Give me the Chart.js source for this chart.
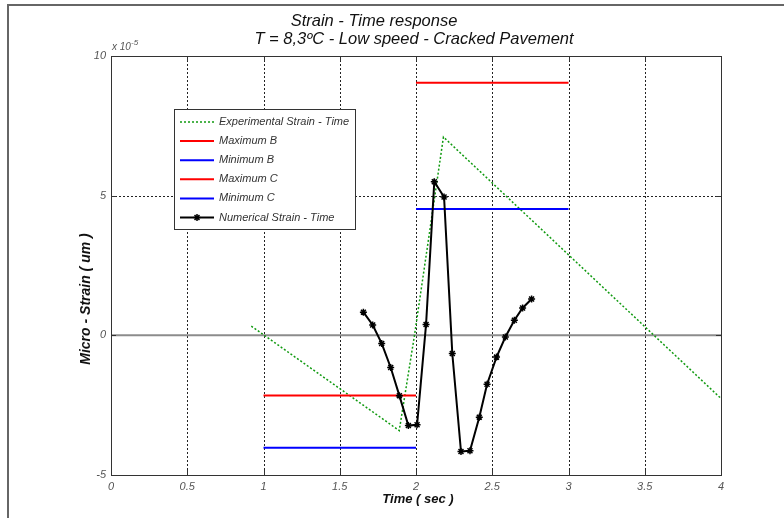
<!DOCTYPE html>
<html>
<head>
<meta charset="utf-8">
<script src="https://cdn.jsdelivr.net/npm/chart.js@4.4.0/dist/chart.umd.min.js"></script>
<style>
  html, body { margin: 0; padding: 0; background: #fff; }
  canvas { display: block; }
</style>
</head>
<body>
<canvas id="strainChart" width="784" height="518"></canvas>
<script>
// strain values are in units of 1e-5 (axis shows "x 10^-5")
const expTime = [0.92, 1.89, 1.99, 2.18, 4.0];
const expStrain = [0.33, -3.41, 0.0, 7.1, -2.26];

const numTime = [1.655, 1.716, 1.775, 1.834, 1.891, 1.950, 2.007, 2.066, 2.120, 2.184,
                 2.238, 2.295, 2.354, 2.415, 2.466, 2.528, 2.586, 2.645, 2.699, 2.758];
const numStrain = [0.83, 0.37, -0.29, -1.15, -2.16, -3.23, -3.20, 0.39, 5.50, 4.95,
                   -0.65, -4.16, -4.13, -2.93, -1.75, -0.78, -0.06, 0.54, 0.98, 1.30];

const limBTime = [1, 2];
const limCTime = [2, 3];
const maxB = [-2.15, -2.15];
const minB = [-4.02, -4.02];
const maxC = [9.04, 9.04];
const minC = [4.52, 4.52];

const zeroTime = [0, 4];
const zeroStrain = [0, 0];

const xTicks = [0, 0.5, 1, 1.5, 2, 2.5, 3, 3.5, 4];
const xTickLabels = ['0', '0.5', '1', '1.5', '2', '2.5', '3', '3.5', '4'];
const yTicks = [-5, 0, 5, 10];
const yTickLabels = ['-5', '0', '5', '10'];

const titleLines = ['Strain - Time response', 'T = 8,3ºC - Low speed - Cracked Pavement'];
const xLabel = 'Time ( sec )';
const yLabel = 'Micro - Strain ( um )';

function pts(xs, ys) {
    return xs.map((x, i) => ({ x: x, y: ys[i] }));
}

const FONT = '"Liberation Sans", Arial, sans-serif';

// MATLAB-like axes: dotted grid, box, inward ticks, legend and labels
const matlabLook = {
    id: 'matlabLook',
    beforeDatasetsDraw(chart) {
        const ctx = chart.ctx;
        const a = chart.chartArea;
        const xs = chart.scales.x, ys = chart.scales.y;
        ctx.save();
        ctx.strokeStyle = '#222';
        ctx.lineWidth = 1;
        ctx.setLineDash([2, 2]);
        xTicks.slice(1, -1).forEach(v => {
            const px = Math.round(xs.getPixelForValue(v)) + 0.5;
            ctx.beginPath(); ctx.moveTo(px, a.top); ctx.lineTo(px, a.bottom); ctx.stroke();
        });
        yTicks.slice(1, -1).forEach(v => {
            const py = Math.round(ys.getPixelForValue(v)) + 0.5;
            ctx.beginPath(); ctx.moveTo(a.left, py); ctx.lineTo(a.right, py); ctx.stroke();
        });
        ctx.restore();
    },
    afterDatasetsDraw(chart) {
        const ctx = chart.ctx;
        const a = chart.chartArea;
        const xs = chart.scales.x, ys = chart.scales.y;
        ctx.save();
        ctx.strokeStyle = '#333';
        ctx.lineWidth = 1;
        ctx.strokeRect(Math.round(a.left) + 0.5, Math.round(a.top) + 0.5,
                       Math.round(a.right - a.left), Math.round(a.bottom - a.top));
        const tl = 5;
        ctx.beginPath();
        xTicks.forEach(v => {
            const px = Math.round(xs.getPixelForValue(v)) + 0.5;
            ctx.moveTo(px, a.bottom); ctx.lineTo(px, a.bottom - tl);
            ctx.moveTo(px, a.top); ctx.lineTo(px, a.top + tl);
        });
        yTicks.forEach(v => {
            const py = Math.round(ys.getPixelForValue(v)) + 0.5;
            ctx.moveTo(a.left, py); ctx.lineTo(a.left + tl, py);
            ctx.moveTo(a.right, py); ctx.lineTo(a.right - tl, py);
        });
        ctx.stroke();
        ctx.restore();
    },
    afterDraw(chart) {
        const ctx = chart.ctx;
        const a = chart.chartArea;
        ctx.save();

        // outer figure frame
        ctx.strokeStyle = '#666';
        ctx.lineWidth = 2;
        ctx.beginPath();
        ctx.moveTo(8, 518); ctx.lineTo(8, 5); ctx.lineTo(784, 5);
        ctx.stroke();

        // title
        ctx.fillStyle = '#111';
        ctx.font = 'italic 16.5px ' + FONT;
        ctx.textAlign = 'center';
        ctx.textBaseline = 'alphabetic';
        ctx.fillText(titleLines[0], 374, 26);
        ctx.fillText(titleLines[1], 414, 44);

        // exponent
        ctx.fillStyle = '#555';
        ctx.textAlign = 'left';
        ctx.font = 'italic 10px ' + FONT;
        ctx.fillText('x 10', a.left + 1, a.top - 6);
        ctx.font = 'italic 8px ' + FONT;
        ctx.fillText('-5', a.left + 20, a.top - 11);

        // axis labels
        ctx.fillStyle = '#111';
        ctx.font = 'bold italic 13px ' + FONT;
        ctx.textAlign = 'center';
        ctx.textBaseline = 'middle';
        ctx.fillText(xLabel, 418, 499);
        ctx.font = 'bold italic 14px ' + FONT;
        ctx.translate(86, 299);
        ctx.rotate(-Math.PI / 2);
        ctx.fillText(yLabel, 0, 0);
        ctx.setTransform(1, 0, 0, 1, 0, 0);

        // legend
        const items = chart.data.datasets.filter(d => d.label);
        const bx = 174.5, by = 109.5, bw = 181, bh = 120, row = 19.1;
        ctx.fillStyle = '#fff';
        ctx.fillRect(bx, by, bw, bh);
        ctx.strokeStyle = '#333';
        ctx.lineWidth = 1;
        ctx.strokeRect(bx, by, bw, bh);
        ctx.font = 'italic 11px ' + FONT;
        ctx.textAlign = 'left';
        ctx.textBaseline = 'middle';
        items.forEach((d, i) => {
            const y = 122 + i * row;
            ctx.save();
            ctx.strokeStyle = d.borderColor;
            ctx.lineWidth = d.borderWidth;
            ctx.setLineDash(d.borderDash || []);
            ctx.beginPath(); ctx.moveTo(180, y); ctx.lineTo(214, y); ctx.stroke();
            ctx.restore();
            if (d.pointRadius > 0) {
                ctx.save();
                ctx.fillStyle = d.borderColor;
                ctx.strokeStyle = d.borderColor;
                ctx.lineWidth = 1.5;
                Chart.helpers.drawPoint(ctx, { pointStyle: d.pointStyle, radius: d.pointRadius, borderWidth: 1.5, rotation: 0 }, 197, y);
                ctx.restore();
            }
            ctx.fillStyle = '#333';
            ctx.fillText(d.label, 219, y);
        });
        ctx.restore();
    }
};

const ctx = document.getElementById('strainChart').getContext('2d');
const strainChart = new Chart(ctx, {
    type: 'line',
    data: {
        datasets: [
            {
                label: 'Experimental Strain - Time',
                data: pts(expTime, expStrain),
                borderColor: '#109a10',
                borderWidth: 1.5,
                borderDash: [2, 2],
                pointRadius: 0,
                order: 5
            },
            {
                label: 'Maximum B',
                data: pts(limBTime, maxB),
                borderColor: '#ff0000',
                borderWidth: 2,
                pointRadius: 0,
                order: 4
            },
            {
                label: 'Minimum B',
                data: pts(limBTime, minB),
                borderColor: '#0000ff',
                borderWidth: 2,
                pointRadius: 0,
                order: 4
            },
            {
                label: 'Maximum C',
                data: pts(limCTime, maxC),
                borderColor: '#ff0000',
                borderWidth: 2,
                pointRadius: 0,
                order: 4
            },
            {
                label: 'Minimum C',
                data: pts(limCTime, minC),
                borderColor: '#0000ff',
                borderWidth: 2,
                pointRadius: 0,
                order: 4
            },
            {
                label: 'Numerical Strain - Time',
                data: pts(numTime, numStrain),
                borderColor: '#000000',
                backgroundColor: '#000000',
                borderWidth: 2,
                pointStyle: 'star',
                pointRadius: 3.5,
                pointBorderWidth: 1.5,
                order: 0
            },
            {
                data: pts(zeroTime, zeroStrain),
                borderColor: '#8c8c8c',
                borderWidth: 2,
                pointRadius: 0,
                order: 10
            }
        ]
    },
    options: {
        responsive: false,
        animation: false,
        layout: { padding: { top: 56, right: 63, left: 0, bottom: 0 } },
        plugins: {
            legend: { display: false },
            tooltip: { enabled: false },
            title: { display: false }
        },
        elements: { line: { tension: 0, fill: false } },
        scales: {
            x: {
                type: 'linear',
                min: 0,
                max: 4,
                afterBuildTicks: s => { s.ticks = xTicks.map(v => ({ value: v })); },
                afterFit: s => { s.height = 43; },
                ticks: {
                    callback: (v, i) => xTickLabels[i],
                    color: '#555',
                    font: { family: FONT, size: 11, style: 'italic' },
                    padding: 5,
                    maxRotation: 0
                },
                grid: { display: false, drawTicks: false },
                border: { display: false }
            },
            y: {
                type: 'linear',
                min: -5,
                max: 10,
                afterBuildTicks: s => { s.ticks = yTicks.map(v => ({ value: v })); },
                afterFit: s => { s.width = 111; },
                ticks: {
                    callback: (v, i) => yTickLabels[i],
                    color: '#555',
                    font: { family: FONT, size: 11, style: 'italic' },
                    padding: 5
                },
                grid: { display: false, drawTicks: false },
                border: { display: false }
            }
        }
    },
    plugins: [matlabLook]
});
</script>
</body>
</html>
